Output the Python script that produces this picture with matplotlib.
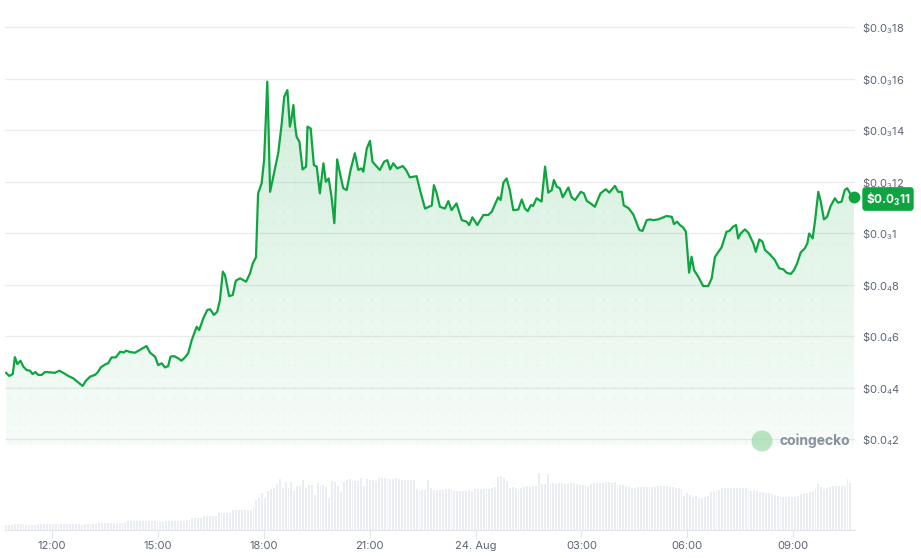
import numpy as np
import matplotlib
matplotlib.use('Agg')
import matplotlib.pyplot as plt
from matplotlib.patches import Polygon, Ellipse

plt.rcParams['font.family'] = ['Inter', 'DejaVu Sans']
plt.rcParams['mathtext.fontset'] = 'custom'
plt.rcParams['mathtext.rm'] = 'Inter'
plt.rcParams['mathtext.bf'] = 'Inter:bold'

# ---------------- data ----------------
# time in hours since 23 Aug 00:00
price_hours = [10.70, 10.79, 10.89, 10.95, 11.02, 11.11, 11.19, 11.28, 11.38, 11.45,
               11.53, 11.61, 11.71, 11.80, 11.94, 12.08, 12.21, 12.32, 12.46, 12.60,
               12.75, 12.87, 12.96, 13.08, 13.22, 13.31, 13.38, 13.50, 13.59, 13.69,
               13.81, 13.93, 14.04, 14.10, 14.21, 14.35, 14.49, 14.68, 14.78, 14.92,
               15.01, 15.11, 15.20, 15.29, 15.36, 15.46, 15.58, 15.67, 15.77, 15.86,
               15.96, 16.05, 16.10, 16.17, 16.29, 16.40, 16.48, 16.59, 16.68, 16.76,
               16.84, 16.90, 17.02, 17.12, 17.21, 17.33, 17.50, 17.61, 17.69, 17.78,
               17.84, 17.94, 18.01, 18.05, 18.10, 18.13, 18.18, 18.27, 18.41, 18.51,
               18.58, 18.67, 18.74, 18.78, 18.84, 18.88, 18.93, 19.01, 19.10, 19.20,
               19.24, 19.33, 19.42, 19.50, 19.59, 19.69, 19.76, 19.84, 19.92, 20.00,
               20.08, 20.16, 20.25, 20.35, 20.46, 20.58, 20.68, 20.77, 20.82, 20.92,
               21.01, 21.08, 21.20, 21.29, 21.41, 21.50, 21.58, 21.67, 21.78, 21.94,
               22.03, 22.14, 22.33, 22.43,
               22.57, 22.76, 22.82, 22.90, 22.99, 23.13, 23.23, 23.32, 23.46, 23.61,
               23.75, 23.82, 23.91, 24.05, 24.22, 24.36, 24.46, 24.64, 24.71, 24.79,
               24.88, 24.97, 25.07, 25.21, 25.31, 25.40, 25.48, 25.57, 25.63, 25.73,
               25.87, 25.97, 26.06, 26.16, 26.22, 26.30, 26.39, 26.47, 26.63, 26.72,
               26.82, 26.98, 27.07, 27.15, 27.26, 27.38, 27.54, 27.69, 27.79, 27.95,
               28.04, 28.14, 28.20, 28.33, 28.47, 28.64, 28.73,
               28.85, 28.94, 29.03, 29.18, 29.32, 29.41, 29.56, 29.62, 29.71, 29.79,
               29.88, 29.96, 30.05, 30.12, 30.19, 30.31, 30.45, 30.59, 30.69, 30.78,
               30.88, 30.97, 31.11, 31.19, 31.30, 31.38, 31.44, 31.51, 31.63, 31.73,
               31.87, 31.94, 32.04, 32.13, 32.20, 32.34, 32.48, 32.60, 32.72, 32.81,
               32.93, 33.02, 33.11, 33.21, 33.33, 33.40, 33.45, 33.55, 33.62, 33.71,
               33.78, 33.87, 33.96, 34.06, 34.18, 34.27, 34.37, 34.46, 34.53, 34.61,
               34.72]

# price in units of 1e-5 USD
price_e5 = [4.57, 4.45, 4.52, 5.18, 4.91, 5.04, 4.81, 4.68, 4.65, 4.52,
            4.60, 4.49, 4.49, 4.60, 4.59, 4.57, 4.65, 4.57, 4.45, 4.36,
            4.19, 4.06, 4.26, 4.42, 4.49, 4.61, 4.78, 4.89, 4.94, 5.17,
            5.17, 5.39, 5.36, 5.43, 5.38, 5.35, 5.46, 5.61, 5.35, 5.20,
            4.87, 4.94, 4.78, 4.83, 5.20, 5.22, 5.13, 5.04, 5.17, 5.33,
            5.84, 6.17, 6.36, 6.23, 6.69, 7.01, 7.04, 6.82, 6.94, 7.40,
            8.50, 8.37, 7.55, 7.59, 8.15, 8.24, 8.11, 8.43, 8.82, 9.06,
            11.54, 11.93, 12.83, 14.13, 15.88, 14.39, 11.60, 12.19, 13.10, 14.26,
            15.29, 15.55, 14.13, 14.39, 14.97, 14.26, 13.74, 13.55, 12.47, 12.58,
            14.13, 14.06, 12.64, 12.58, 11.54, 12.71, 11.99, 12.12, 11.41, 10.38,
            12.86, 12.32, 11.74, 11.67, 12.45, 13.10, 12.45, 12.51, 12.38, 13.29,
            13.58, 12.77, 12.58, 12.45, 12.77, 12.83, 12.47, 12.71, 12.51, 12.60,
            12.45, 12.16, 12.21, 11.65,
            10.95, 11.07, 11.86, 11.54, 11.02, 10.95, 11.24, 10.89, 11.15, 10.50,
            10.44, 10.31, 10.61, 10.31, 10.70, 10.70, 10.83, 11.39, 11.28, 11.96,
            12.12, 11.67, 10.89, 10.91, 11.30, 10.95, 10.85, 11.09, 11.05, 11.35,
            11.22, 12.58, 11.57, 11.67, 12.06, 11.80, 11.74, 11.39, 11.77, 11.39,
            11.28, 11.60, 11.54, 11.25, 11.15, 11.02, 11.54, 11.70, 11.57, 11.83,
            11.60, 11.60, 11.07, 10.97, 10.72, 10.12, 10.08,
            10.50, 10.53, 10.50, 10.53, 10.61, 10.66, 10.63, 10.35, 10.44, 10.31,
            10.22, 10.05, 8.46, 9.08, 8.56, 8.30, 7.94, 7.94, 8.24, 9.06,
            9.27, 9.44, 10.05, 10.08, 10.25, 10.31, 9.79, 9.98, 10.14, 10.01,
            9.60, 9.27, 9.75, 9.66, 9.34, 9.17, 8.95, 8.63, 8.59, 8.46,
            8.41, 8.56, 8.82, 9.24, 9.41, 9.60, 9.98, 9.79, 10.50, 11.60,
            11.22, 10.53, 10.63, 11.05, 11.35, 11.18, 11.22, 11.67, 11.74, 11.54,
            11.41]

# 5-minute volume bars (relative units)
volume = [5, 5, 5, 6, 6, 6, 6, 5, 5, 5, 5,
          6, 6, 6, 6, 6, 6, 6, 6, 6, 6, 6, 6, 6, 6, 6,
          5, 6, 6, 6, 6, 6,
          7, 7, 7, 7, 7, 7, 7, 7, 7, 7,
          9, 9, 9, 9, 9, 9, 9, 9, 9, 9,
          8, 8, 8, 9, 9, 9, 9, 9, 9, 9, 10, 10,
          12, 12, 12, 12, 14, 14, 14, 14, 14, 17, 17, 17, 17, 17,
          20, 20, 20, 20, 20, 20, 20, 23,
          30, 32, 37, 32, 39, 41, 42, 46, 51, 42,
          48, 42, 48, 39, 44, 44, 50, 42, 45, 45,
          35, 47, 44, 45, 43, 32, 49, 48, 44, 38,
          48, 50, 51, 49, 49, 49, 52, 44, 51, 50,
          50, 49, 52, 52, 52, 51, 51, 51, 52, 51,
          50, 50, 50, 50, 50,
          41, 39, 40, 40, 50, 42,
          40, 40, 40, 40, 41, 41, 41,
          39, 39, 39, 39, 39, 40, 39,
          41, 41, 41, 41, 41, 41,
          42, 43, 53, 54, 52, 49, 42, 43, 42, 41,
          42, 43, 44, 43, 44, 44, 57, 46, 46, 56,
          47, 47, 46, 47, 47, 46, 46, 47, 47, 46,
          45, 45, 45, 44, 46, 47, 47, 47, 47, 48,
          48, 47, 48, 45, 45, 45, 44, 43, 42, 42,
          43, 43, 43, 43, 43, 43, 43, 44, 44, 44,
          44, 43, 43, 42, 42, 41, 34, 37, 35, 33,
          34, 32, 32, 33, 34, 38, 38, 39, 40, 42,
          42, 42, 42, 42, 42, 42, 42, 42, 40, 39,
          40, 39, 38, 38, 37, 37, 36, 35, 34, 34,
          33, 33, 33, 33, 33, 34, 36, 36, 37, 38,
          39, 41, 46, 43, 41, 42, 43, 44, 44, 44,
          44, 44, 51, 47]

y_tick_values_e5 = [2, 4, 6, 8, 10, 12, 14, 16, 18]
y_tick_labels = [r'\$0.0$\mathregular{_4}$2', r'\$0.0$\mathregular{_4}$4',
                 r'\$0.0$\mathregular{_4}$6', r'\$0.0$\mathregular{_4}$8',
                 r'\$0.0$\mathregular{_3}$1', r'\$0.0$\mathregular{_3}$12',
                 r'\$0.0$\mathregular{_3}$14', r'\$0.0$\mathregular{_3}$16',
                 r'\$0.0$\mathregular{_3}$18']
x_tick_hours = [12, 15, 18, 21, 24, 27, 30, 33]
x_tick_labels = ['12:00', '15:00', '18:00', '21:00', '24. Aug', '03:00', '06:00', '09:00']
current_label = r'\$0.0$\mathregular{_3}$11'

# ---------------- style ----------------
GREEN = '#0ea540'
GREEN_RGB = matplotlib.colors.to_rgb(GREEN)
TEXT = '#5b6472'
GRID = '#ececec'

W, H = 921, 558
fig = plt.figure(figsize=(W / 100, H / 100), dpi=100)

def fx(px):
    return px / W

def fy(py):
    return 1 - py / H

X0, X1 = 10.67, 34.75
t = np.array(price_hours)
p = np.array(price_e5) * 1e-5
YMIN, YMAX = 1.767e-5, 19.05e-5

ax = fig.add_axes([fx(5), fy(445), fx(855) - fx(5), fy(0) - fy(445)])
ax.set_xlim(X0, X1)
ax.set_ylim(YMIN, YMAX)
for s in ax.spines.values():
    s.set_visible(False)
ax.set_xticks([])
ax.set_yticks(np.array(y_tick_values_e5) * 1e-5)
ax.set_yticklabels(y_tick_labels)
ax.yaxis.tick_right()
ax.tick_params(axis='y', length=0, pad=5, labelsize=8, labelcolor=TEXT)
ax.yaxis.grid(True, color=GRID, lw=1)
ax.set_axisbelow(True)

# gradient fill under line
verts = [(t[0], YMIN)] + list(zip(t, p)) + [(t[-1], YMIN)]
poly = Polygon(verts, closed=True, facecolor='none', edgecolor='none')
ax.add_patch(poly)
n = 256
rgba = np.zeros((n, 1, 4))
rgba[..., 0], rgba[..., 1], rgba[..., 2] = GREEN_RGB
rgba[:, 0, 3] = np.linspace(0.22, 0.035, n)
im = ax.imshow(rgba, extent=[X0, X1, YMIN, YMAX], aspect='auto', origin='upper',
               zorder=1, interpolation='bilinear')
im.set_clip_path(poly)

# subtle dot pattern in fill
gx = np.arange(X0 + 0.1, X1, 11 / 35.3)
gy = np.arange(YMIN + 0.1e-5, YMAX, 11 / 25.75 * 1e-5)
GX, GY = np.meshgrid(gx, gy)
dots = ax.scatter(GX.ravel(), GY.ravel(), s=1.3, color=GREEN, alpha=0.07,
                  linewidths=0, zorder=1.5)
dots.set_clip_path(poly)

ax.plot(t, p, color=GREEN, lw=1.6, zorder=3, solid_joinstyle='round')
ax.plot([t[-1]], [p[-1]], 'o', color=GREEN, ms=7.5, zorder=4, clip_on=False)

# current price label
fig.text(fx(888), fy(199), current_label, ha='center', va='center', color='white',
         fontsize=8.5, fontweight='bold',
         bbox=dict(boxstyle='round,pad=0.28,rounding_size=0.3', fc=GREEN, ec='none'))

# coingecko watermark
logo = Ellipse((fx(762), fy(441)), 21 / W, 21 / H, transform=fig.transFigure,
               facecolor='#a3dbae', edgecolor='none', alpha=0.75, zorder=5)
fig.patches.append(logo)
fig.text(fx(779), fy(441), 'coingecko', ha='left', va='center', color='#7c8593',
         fontsize=10, fontweight='bold', alpha=0.9)

# volume bars
axv = fig.add_axes([fx(5), fy(530), fx(855) - fx(5), fy(465) - fy(530)])
vt = np.linspace(10.70, 34.62, len(volume))
axv.bar(vt, volume, width=(5 / 60) * 0.65, color='#eaedf1', linewidth=0)
axv.set_xlim(X0, X1)
axv.set_ylim(0, 65)
for k, s in axv.spines.items():
    s.set_visible(k == 'bottom')
axv.spines['bottom'].set_color('#e3e6ea')
axv.set_yticks([])
axv.set_xticks(x_tick_hours)
axv.set_xticklabels(x_tick_labels)
axv.tick_params(axis='x', length=6, color='#e3e6ea', pad=2, labelsize=8, labelcolor=TEXT)

fig.savefig('out.png', dpi=100)
